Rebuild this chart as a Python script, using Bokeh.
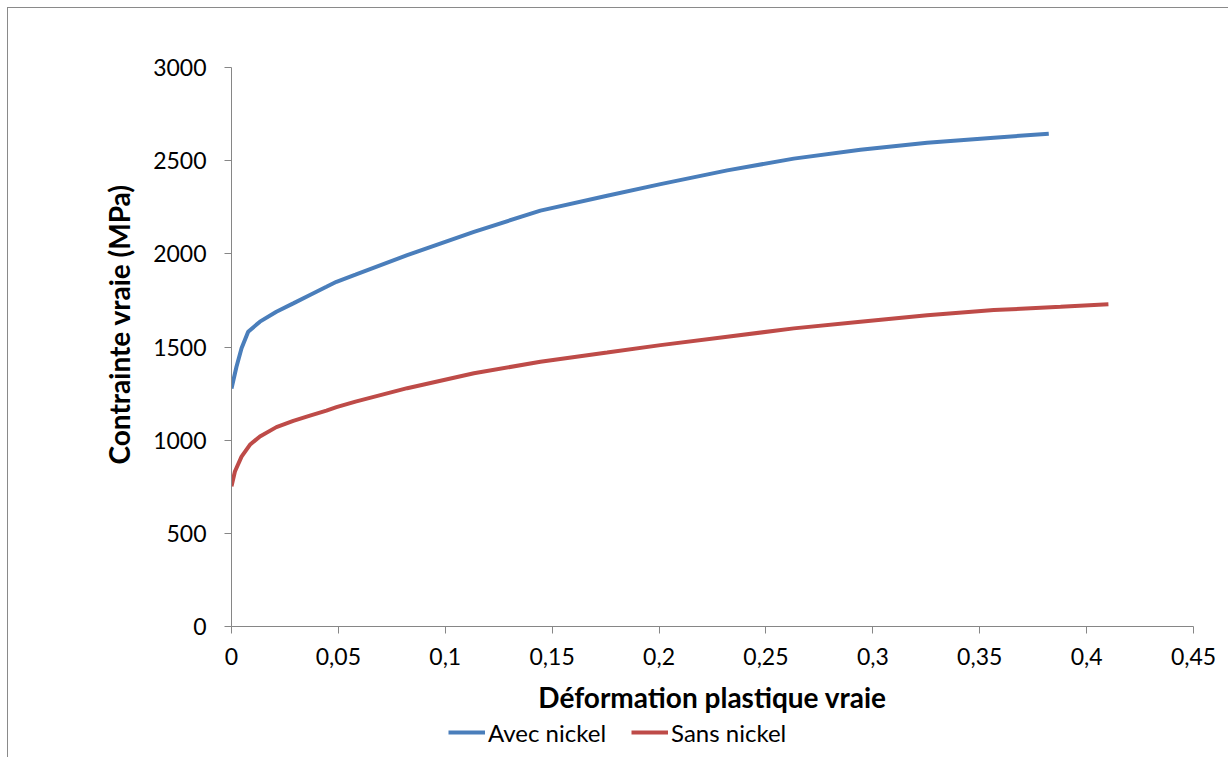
from bokeh.plotting import figure
from bokeh.layouts import column
from bokeh.models import (Range1d, FixedTicker, CustomJSTickFormatter, Legend, LegendItem, Title)
from bokeh.embed import file_html
from bokeh.resources import INLINE

# ---- data ----
eps_avec = [0.0, 0.0023, 0.0047, 0.0078, 0.0133, 0.0210, 0.0289, 0.0367, 0.0444, 0.0491,
            0.0580, 0.0822, 0.1134, 0.1445, 0.1757, 0.2007, 0.2319, 0.2630, 0.2942,
            0.3254, 0.3566, 0.3823]
sig_avec = [1277, 1393, 1493, 1582, 1636, 1689, 1734, 1779, 1823, 1850,
            1888, 1993, 2118, 2232, 2312, 2374, 2448, 2511, 2559,
            2596, 2623, 2645]

eps_sans = [0.0, 0.0016, 0.0047, 0.0086, 0.0133, 0.0210, 0.0289, 0.0367, 0.0444, 0.0491,
            0.0580, 0.0822, 0.1134, 0.1445, 0.1757, 0.2007, 0.2319, 0.2630, 0.2942,
            0.3254, 0.3566, 0.3878, 0.4102]
sig_sans = [752, 832, 912, 975, 1020, 1070, 1104, 1132, 1159, 1177,
            1207, 1279, 1359, 1421, 1470, 1510, 1555, 1600, 1636,
            1671, 1698, 1716, 1730]

series_names = ["Avec nickel", "Sans nickel"]
series_colors = ["#4A7EBB", "#BE4B48"]

x_ticks = [0, 0.05, 0.1, 0.15, 0.2, 0.25, 0.3, 0.35, 0.4, 0.45]
x_tick_labels = ["0", "0,05", "0,1", "0,15", "0,2", "0,25", "0,3", "0,35", "0,4", "0,45"]
y_ticks = [0, 500, 1000, 1500, 2000, 2500, 3000]

x_title = "Déformation plastique vraie"
y_title = "Contrainte vraie (MPa)"

FONT = "Lato"
AXIS_COLOR = "#868686"

p = figure(width=1220, height=708, output_backend="svg", toolbar_location=None,
           x_range=Range1d(0, 0.45), y_range=Range1d(0, 3000),
           min_border_left=223, min_border_right=35, min_border_top=59,
           min_border_bottom=89)
p.outline_line_color = None
p.grid.visible = False
p.background_fill_color = "white"
p.border_fill_color = "white"

r1 = p.line(eps_avec, sig_avec, line_color=series_colors[0], line_width=4)
r2 = p.line(eps_sans, sig_sans, line_color=series_colors[1], line_width=4)

for ax in (p.xaxis[0], p.yaxis[0]):
    ax.axis_line_color = AXIS_COLOR
    ax.major_tick_line_color = AXIS_COLOR
    ax.minor_tick_line_color = None
    ax.major_tick_in = 0
    ax.major_tick_out = 7
    ax.major_label_text_font = FONT
    ax.major_label_text_font_size = "23px"
    ax.major_label_text_color = "#000000"
    ax.axis_label_text_font = FONT
    ax.axis_label_text_font_size = "28px"
    ax.axis_label_text_font_style = "bold"
    ax.axis_label_text_color = "#000000"

p.xaxis[0].ticker = FixedTicker(ticks=x_ticks)
p.xaxis[0].formatter = CustomJSTickFormatter(
    args=dict(xt=x_ticks, xl=x_tick_labels),
    code="const i = xt.findIndex(t => Math.abs(t - tick) < 1e-9); return i >= 0 ? xl[i] : String(tick);")
p.xaxis[0].axis_label = x_title
p.xaxis[0].major_label_standoff = 14
p.xaxis[0].axis_label_standoff = 12

p.yaxis[0].ticker = FixedTicker(ticks=y_ticks)
p.yaxis[0].major_label_standoff = 18

# y-axis title placed a little above the frame centre, as in the reference
ytitle = Title(text=y_title, align="left", offset=162, standoff=30,
               text_font=FONT, text_font_size="28px", text_font_style="bold",
               text_color="#000000")
p.add_layout(ytitle, "left")

# legend strip below the chart
lf = figure(width=1220, height=41, output_backend="svg", toolbar_location=None,
            x_range=Range1d(0, 1), y_range=Range1d(-2, -1),
            x_axis_location=None, y_axis_location=None,
            min_border_left=0, min_border_right=0, min_border_top=0, min_border_bottom=0)
lf.outline_line_color = None
lf.grid.visible = False
lf.background_fill_color = "white"
lf.border_fill_color = "white"
# legend keys reuse the series data, which lies outside this strip's range
k1 = lf.line(eps_avec, sig_avec, line_color=series_colors[0], line_width=4)
k2 = lf.line(eps_sans, sig_sans, line_color=series_colors[1], line_width=4)

legend = Legend(items=[LegendItem(label=series_names[0], renderers=[k1]),
                       LegendItem(label=series_names[1], renderers=[k2])],
                location=(217, 9), orientation="horizontal",
                label_text_font=FONT, label_text_font_size="24px",
                label_text_color="#000000",
                glyph_width=37, glyph_height=32, label_height=32,
                label_standoff=3, spacing=25, padding=0, margin=0,
                border_line_color=None, background_fill_alpha=0)
lf.add_layout(legend)

layout = column(p, lf, spacing=0)
layout.styles = {"margin-left": "7px", "margin-top": "7px",
                 "border-left": "1px solid #8a8a8a", "border-top": "1px solid #8a8a8a"}

open("out.html", "w").write(file_html(layout, INLINE))
